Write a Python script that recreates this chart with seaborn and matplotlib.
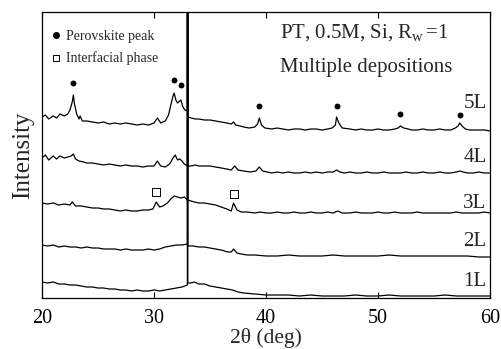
import numpy as np
import pandas as pd
import matplotlib
matplotlib.use("Agg")
import matplotlib.pyplot as plt
from matplotlib.lines import Line2D
import seaborn as sns

# ---------------- data (arbitrary stacked intensity) -------------
x5 = [20.0, 20.3, 20.6, 21.0, 21.3, 21.6, 22.0, 22.3, 22.5, 22.7,
      22.8, 22.9, 23.1, 23.3, 23.4, 23.6, 24.0, 24.5, 25.0, 25.5,
      26.0, 26.5, 27.0, 27.5, 28.0, 28.5, 29.0, 29.5, 30.0, 30.3,
      30.6, 31.0, 31.3, 31.5, 31.7, 31.8, 31.95, 32.1, 32.3, 32.4,
      32.55, 32.75, 32.98, 33.0, 33.02, 33.3, 33.7, 34.0, 34.5, 35.0,
      35.5, 36.0, 36.5, 36.9, 37.1, 37.3, 37.7, 38.0, 38.5, 39.0,
      39.25, 39.4, 39.6, 39.9, 40.5, 41.0, 41.5, 42.0, 42.5, 43.0,
      43.5, 44.0, 44.5, 45.0, 45.5, 45.9, 46.2, 46.3, 46.5, 46.8,
      47.5, 48.0, 48.5, 49.0, 49.5, 50.0, 50.5, 51.0, 51.5, 51.8,
      52.0, 52.3, 52.7, 53.0, 53.5, 54.0, 54.5, 55.0, 55.5, 56.0,
      56.5, 56.9, 57.15, 57.3, 57.5, 57.8, 58.2, 58.6, 59.0, 59.5,
      60.0]
y5 = [183, 185, 181, 184, 182, 186, 184, 186, 190, 198,
      205, 196, 186, 181, 184, 179, 179, 178, 177, 178,
      176, 177, 176, 177, 176, 175, 176, 175, 177, 182,
      177, 179, 185, 195, 204, 207, 200, 197, 199, 200,
      194, 190, 189, 1000, 183, 182, 181, 181, 180, 180,
      179, 178, 177, 176, 178, 175, 174, 173, 172, 173,
      176, 182, 175, 172, 171, 172, 171, 170, 171, 171,
      170, 171, 171, 170, 171, 172, 175, 183, 177, 172,
      171, 170, 171, 170, 170, 171, 170, 170, 171, 172,
      174, 172, 171, 170, 170, 171, 170, 170, 171, 170,
      170, 172, 174, 177, 174, 171, 170, 170, 170, 170,
      169]

x4 = [20.0, 20.3, 20.6, 21.0, 21.3, 21.6, 22.0, 22.3,
      22.6, 22.8, 23.0, 23.3, 23.7, 24.0, 24.5, 25.0, 25.5, 26.0,
      26.5, 27.0, 27.5, 28.0, 28.5, 29.0, 29.5, 30.0, 30.3, 30.6,
      31.0, 31.4, 31.7, 31.9, 32.1, 32.3, 32.5, 32.7, 32.98, 33.0,
      33.02, 33.3, 33.7, 34.0, 34.5, 35.0, 35.5, 36.0, 36.5, 36.9,
      37.2, 37.5, 38.0, 38.6, 39.1, 39.4, 39.7, 40.1, 40.5, 41.0,
      41.5, 42.0, 42.5, 43.0, 43.5, 44.0, 44.5, 45.0, 45.5, 46.0,
      46.3, 46.6, 47.0, 47.5, 48.0, 48.5, 49.0, 49.5, 50.0, 50.5,
      51.0, 51.5, 52.0, 52.5, 53.0, 53.5, 54.0, 54.5, 55.0, 55.5,
      56.0, 56.5, 57.0, 57.3, 57.6, 58.0, 58.5, 59.0, 59.5, 60.0]
y4 = [142, 145, 140, 144, 141, 144, 142, 143,
      144, 146, 141, 139, 138, 137, 137, 136, 135, 136,
      135, 134, 135, 134, 134, 133, 134, 134, 139, 134,
      133, 136, 142, 145, 140, 141, 139, 136, 134, 1000,
      134, 134, 135, 134, 134, 134, 133, 132, 131, 130,
      134, 130, 129, 128, 129, 133, 129, 128, 127, 128,
      127, 128, 127, 127, 128, 127, 128, 127, 128, 128,
      130, 128, 127, 128, 127, 127, 128, 127, 127, 128,
      127, 127, 127, 128, 127, 127, 128, 127, 127, 128,
      127, 127, 128, 129, 128, 127, 127, 128, 127, 127]

x3 = [20.0, 20.5, 21.0, 21.5, 22.0, 22.5, 22.7, 23.0, 23.5, 24.0,
      24.5, 25.0, 25.5, 26.0, 26.5, 27.0, 27.5, 28.0, 28.5, 29.0,
      29.5, 29.9, 30.2, 30.5, 30.8, 31.2, 31.5, 31.8, 32.1, 32.4,
      32.7, 32.98, 33.0, 33.02, 33.3, 33.6, 34.0, 34.5, 35.0, 35.5,
      36.0, 36.5, 36.9, 37.1, 37.4, 37.8, 38.3, 39.0, 39.5, 40.0,
      40.5, 41.0, 41.5, 42.0, 42.5, 43.0, 43.5, 44.0, 44.5, 45.0,
      45.5, 46.0, 46.4, 46.8, 47.5, 48.0, 48.5, 49.0, 49.5, 50.0,
      50.5, 51.0, 51.5, 52.0, 52.5, 53.0, 53.5, 54.0, 54.5, 55.0,
      55.5, 56.0, 56.5, 57.0, 57.5, 58.0, 58.5, 59.0, 59.5, 60.0]
y3 = [97, 96, 97, 95, 96, 95, 98, 94, 94, 93,
      92, 92, 91, 91, 90, 89, 90, 89, 89, 90,
      90, 91, 98, 93, 94, 97, 101, 104, 103, 102,
      103, 100, 1000, 100, 99, 98, 97, 97, 96, 95,
      93, 91, 89, 97, 90, 88, 88, 87, 88, 87,
      87, 88, 87, 87, 88, 87, 87, 88, 87, 87,
      88, 87, 89, 87, 87, 88, 87, 87, 87, 88,
      87, 87, 88, 87, 87, 87, 88, 87, 87, 87,
      87, 87, 87, 88, 87, 87, 87, 87, 88, 87]

x2 = [20.0, 20.5, 21.0, 21.5, 22.0, 22.5, 23.0, 23.5, 24.0, 24.5,
      25.0, 25.5, 26.0, 26.5, 27.0, 27.5, 28.0, 28.5, 29.0, 29.5,
      30.0, 30.5, 31.0, 31.5, 32.0, 32.5, 32.98, 33.0, 33.02, 33.5,
      34.0, 34.5, 35.0, 35.5, 36.0, 36.6, 36.9, 37.1, 37.4, 37.8,
      38.3, 39.0, 40.0, 41.0, 42.0, 43.0, 44.0, 45.0, 46.0, 47.0,
      48.0, 49.0, 50.0, 51.0, 52.0, 53.0, 54.0, 55.0, 56.0, 57.0,
      58.0, 59.0, 60.0]
y2 = [55, 54, 55, 53, 54, 53, 53, 52, 53, 52,
      52, 51, 51, 51, 50, 51, 50, 50, 50, 51,
      50, 51, 53, 54, 55, 55, 56, 1000, 54, 54,
      53, 53, 52, 51, 50, 48, 48, 51, 47, 46,
      45, 45, 44, 44, 45, 44, 44, 44, 45, 44,
      44, 44, 44, 45, 44, 44, 44, 44, 44, 44,
      44, 43, 43]

x1 = [20.0, 20.5, 21.0, 21.5, 22.0, 22.5, 23.0, 23.5, 24.0, 24.5,
      25.0, 25.5, 26.0, 26.5, 27.0, 27.5, 28.0, 28.5, 29.0, 29.5,
      30.0, 30.5, 31.0, 31.5, 32.0, 32.5, 32.98, 33.0, 33.02, 33.3,
      33.6, 34.0, 34.5, 35.0, 35.5, 36.0, 36.5, 37.0, 37.5, 38.0,
      39.0, 40.0, 41.0, 42.0, 43.0, 44.0, 45.0, 46.0, 47.0, 48.0,
      49.0, 50.0, 51.0, 52.0, 53.0, 54.0, 55.0, 56.0, 57.0, 58.0,
      59.0, 60.0]
y1 = [18, 17, 18, 16, 16, 15, 15, 14, 13, 13,
      12, 12, 11, 11, 10, 10, 9, 10, 9, 9,
      10, 9, 10, 11, 12, 13, 15, 1000, 17, 17,
      18, 16, 16, 14, 13, 12, 11, 10, 8, 7,
      6, 5, 5, 5, 4, 5, 4, 4, 4, 5,
      4, 4, 5, 4, 4, 4, 4, 5, 4, 4,
      4, 4]

layers = ["1L", "2L", "3L", "4L", "5L"]
label_y = [18, 58, 97, 143, 197]

perov_x = [22.8, 31.8, 32.4, 39.4, 46.3, 52.0, 57.3]
perov_y = [217, 220, 215, 194, 194, 186, 185]
interf_x = [30.2, 37.1]
interf_y = [108, 106]

xticks = [20, 30, 40, 50, 60]

# ---------------- style ----------------
sns.set_theme(style="ticks")
plt.rcParams["font.family"] = ["Liberation Serif", "DejaVu Serif"]
plt.rcParams["mathtext.fontset"] = "custom"
plt.rcParams["mathtext.rm"] = "Liberation Serif"
plt.rcParams["mathtext.it"] = "Liberation Serif:italic"

traces = [(x1, y1), (x2, y2), (x3, y3), (x4, y4), (x5, y5)]
frames = []
for name, (xs, ys) in zip(layers, traces):
    frames.append(pd.DataFrame({"two_theta": xs, "intensity": ys, "layer": name}))
df = pd.concat(frames, ignore_index=True)

fig = plt.figure(figsize=(5.02, 3.49), dpi=100)
ax = fig.add_axes([42 / 502, 51 / 349, 448 / 502, 286 / 349])

sns.lineplot(data=df, x="two_theta", y="intensity", units="layer", estimator=None,
             color="black", lw=0.9, sort=False, ax=ax, legend=False)

sns.scatterplot(x=perov_x, y=perov_y, color="black", marker="o", s=18,
                edgecolor="black", linewidth=0, ax=ax, legend=False)
ax.scatter(interf_x, interf_y, marker="s", s=26, facecolors="white",
           edgecolors="black", linewidths=0.7, zorder=3)

for name, yy in zip(layers, label_y):
    ax.text(59.7, yy, name, ha="right", va="center", fontsize=15)

ax.text(0.531, 0.909, r"PT, 0.5M, Si, R$_{\mathrm{w}}\,$=1", transform=ax.transAxes,
        fontsize=15, ha="left", va="baseline")
ax.text(0.531, 0.790, "Multiple depositions", transform=ax.transAxes,
        fontsize=15, ha="left", va="baseline")

handles = [Line2D([], [], marker="o", color="black", ls="none", ms=4),
           Line2D([], [], marker="s", mfc="white", mec="black", mew=0.7, ls="none", ms=5)]
ax.legend(handles, ["Perovskite peak", "Interfacial phase"], loc="upper left",
          bbox_to_anchor=(0.0, 0.965), frameon=False, fontsize=10,
          handlelength=0.8, handletextpad=0.3, labelspacing=0.6, borderaxespad=0.2)

ax.set_xlim(20, 60)
ax.set_ylim(2, 288)
ax.set_xticks(xticks)
ax.set_xticklabels([str(t) for t in xticks])
ax.set_yticks([])
ax.tick_params(axis="x", direction="in", top=True, length=4, width=0.8,
               labelsize=14.5, colors="black", pad=8)
for sp in ax.spines.values():
    sp.set_visible(True)
    sp.set_color("black")
    sp.set_linewidth(0.9)
ax.set_xlabel("2θ (deg)", fontsize=15.5, labelpad=0)
ax.set_ylabel("Intensity", fontsize=18, labelpad=6)

fig.savefig("out.png", dpi=100)
